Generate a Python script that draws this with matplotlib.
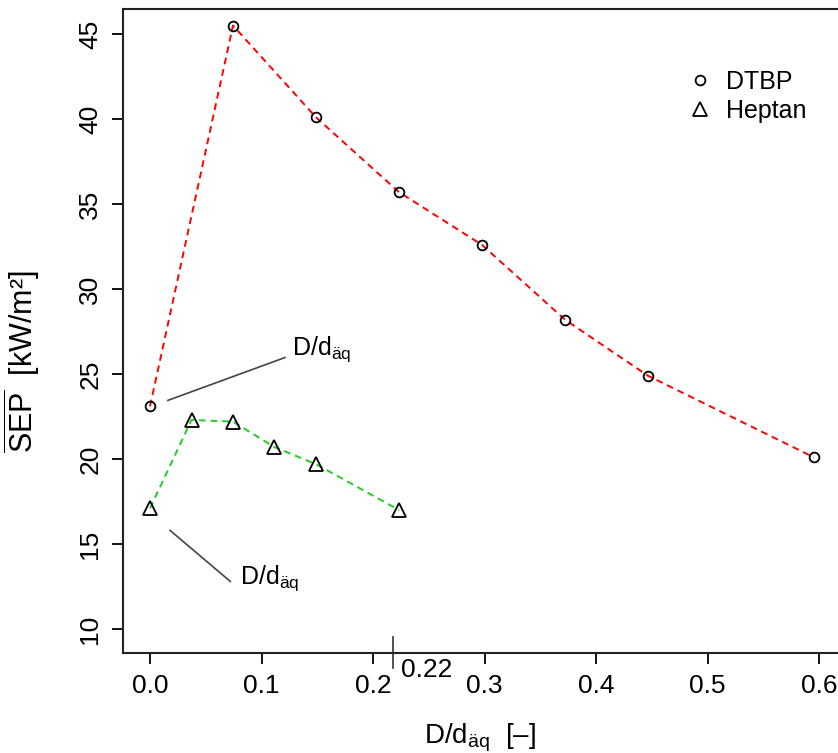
import numpy as np
import matplotlib
matplotlib.use("Agg")
import matplotlib.pyplot as plt

plt.rcParams['font.family'] = ['Liberation Sans', 'DejaVu Sans']
plt.rcParams['mathtext.fontset'] = 'custom'
plt.rcParams['mathtext.rm'] = 'Liberation Sans'
plt.rcParams['mathtext.it'] = 'Liberation Sans'

# mean SEP vs. D/d_aeq for the two fuels
x_dtbp = [0.0, 0.0744, 0.1488, 0.2232, 0.2976, 0.3720, 0.4464, 0.5952]
sep_dtbp = [23.1, 45.5, 40.1, 35.7, 32.6, 28.2, 24.9, 20.1]
x_hept = [0.0, 0.0372, 0.0744, 0.1116, 0.1488, 0.2232]
sep_hept = [17.1, 22.3, 22.2, 20.7, 19.7, 17.0]

x_ticks = [0.0, 0.1, 0.2, 0.3, 0.4, 0.5, 0.6]
x_tick_labels = ["0.0", "0.1", "0.2", "0.3", "0.4", "0.5", "0.6"]
y_ticks = [10, 15, 20, 25, 30, 35, 40, 45]
x_mark = 0.218

fig = plt.figure(figsize=(8.38, 7.53), dpi=100)
ax = fig.add_axes([0.1468, 0.1328, 0.8628, 0.8552])

ax.plot(x_dtbp, sep_dtbp, color='#ff0000', ls=(0, (3.5, 2.5)), lw=1.4, zorder=2)
ax.plot(x_hept, sep_hept, color='#22cc22', ls=(0, (3.5, 2.5)), lw=1.4, zorder=2)
ax.plot(x_dtbp, sep_dtbp, ls='none', marker='o', ms=7, mfc='none', mec='black',
        mew=1.3, label='DTBP', zorder=3)
ax.plot(x_hept, sep_hept, ls='none', marker='^', ms=10, mfc='none', mec='black',
        mew=1.3, label='Heptan', zorder=3)

ax.set_xlim(-0.0242, 0.624)
ax.set_ylim(8.59, 46.47)
ax.set_xticks(x_ticks)
ax.set_xticklabels(x_tick_labels)
ax.set_yticks(y_ticks)
ax.tick_params(direction='out', length=8, width=1.3, labelsize=19, pad=7)
ax.tick_params(axis='y', labelrotation=90)
for lbl in ax.get_yticklabels():
    lbl.set_va('center')
for side in ['left', 'bottom', 'top', 'right']:
    ax.spines[side].set_linewidth(1.5)
    ax.spines[side].set_color('#222222')

ax.set_xlabel(r'D/d$_{\mathrm{äq}}$  [–]', fontsize=20)
ax.set_ylabel(r'$\overline{\mathrm{SEP}}$  [kW/m²]', fontsize=22)
ax.xaxis.set_label_coords(0.494, -0.106)
ax.yaxis.set_label_coords(-0.112, 0.452)

leg = ax.legend(loc='upper left', bbox_to_anchor=(0.746, 0.94), frameon=False,
                fontsize=18, handletextpad=0.45, labelspacing=0.2, handlelength=1.2)

# callouts for the first point of each series
ax.plot([0.016, 0.121], [23.45, 25.97], color='#444444', lw=1.2)
ax.text(0.127, 25.6, r'D/d$_{\mathrm{äq}}$', fontsize=18, va='bottom', ha='left')
ax.plot([0.018, 0.072], [15.8, 12.8], color='#444444', lw=1.2)
ax.text(0.081, 12.1, r'D/d$_{\mathrm{äq}}$', fontsize=18, va='bottom', ha='left')

# marker at the Heptan data limit
ax.plot([x_mark, x_mark], [9.53, 7.71], color='#333333', lw=1.2, clip_on=False)
ax.text(x_mark + 0.007, 8.3, '0.22', fontsize=19, va='top', ha='left')

fig.savefig("out.png", dpi=100)
